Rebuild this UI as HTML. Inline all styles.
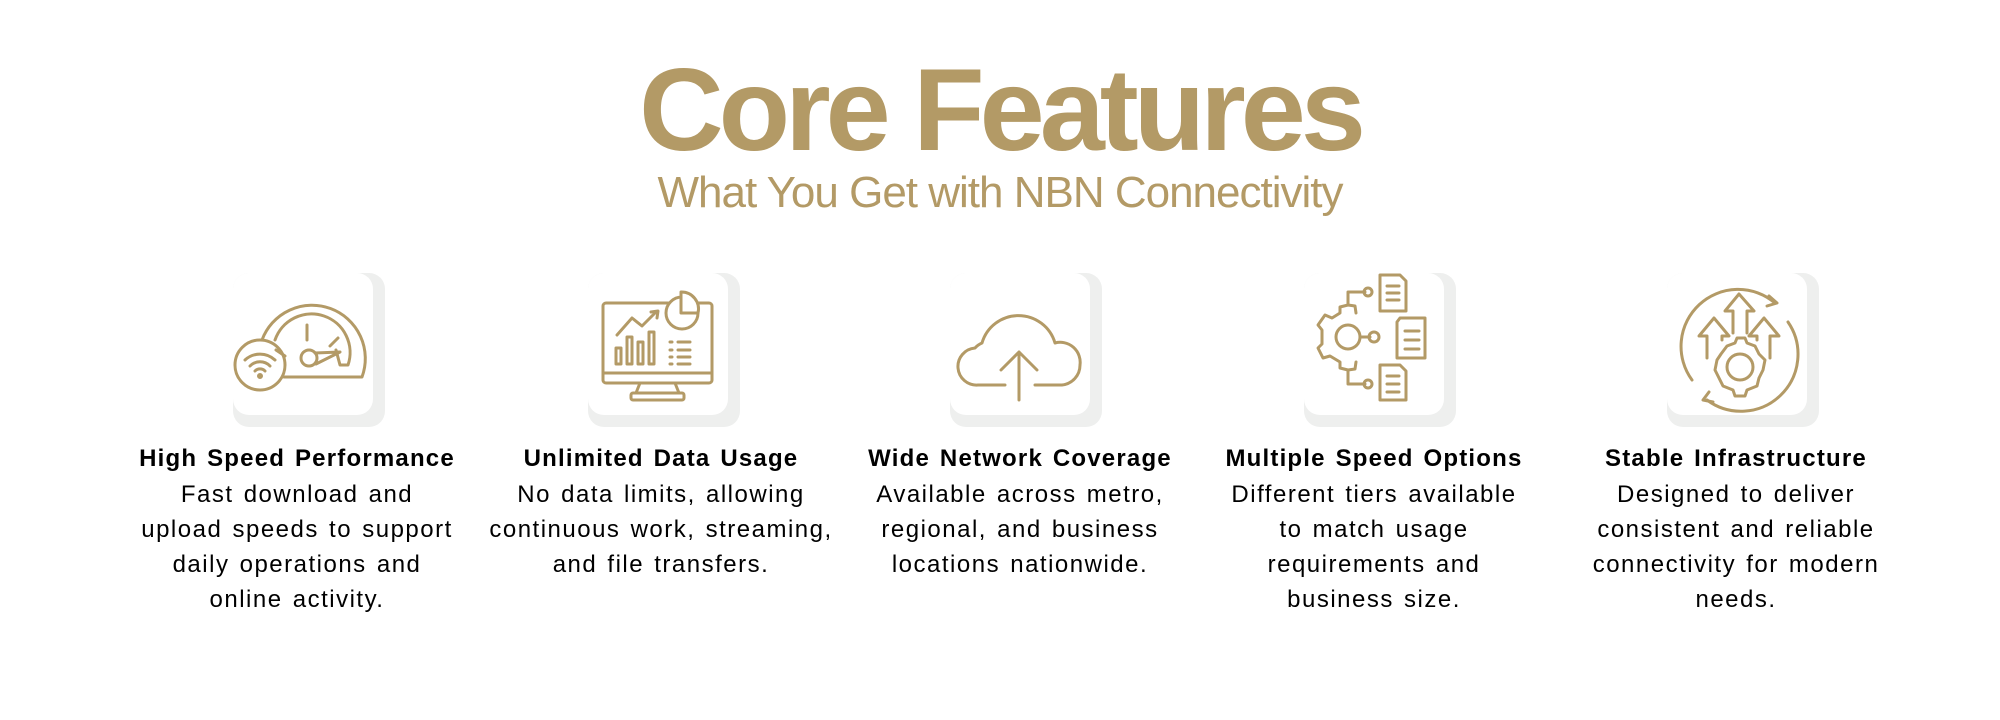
<!DOCTYPE html>
<html><head><meta charset="utf-8"><style>
body{margin:0;width:2000px;height:720px;background:#fff;position:relative;overflow:hidden;font-family:"Liberation Sans",sans-serif}
.t{position:absolute;left:0;width:2000px;text-align:center;color:#b39a66}
.c{position:absolute;width:400px;text-align:center;color:#000;top:441px}
.c b{display:block;font-size:24px;line-height:36px;letter-spacing:1.2px;word-spacing:2px}
.c p{margin:0;font-size:24px;line-height:35px;letter-spacing:1.5px;word-spacing:2px}
svg{position:absolute;left:0;top:0}
</style></head><body>
<div class="t" style="top:52px;font-size:117px;font-weight:bold;letter-spacing:-5px;line-height:116px">Core Features</div>
<div class="t" style="top:168px;font-size:44px;letter-spacing:-1px;line-height:50px">What You Get with NBN Connectivity</div>
<svg width="2000" height="720" fill="none" stroke="#b39a66" stroke-width="3" stroke-linecap="round" stroke-linejoin="round">
<g stroke="none">
<rect x="233" y="273" width="152" height="154" rx="16" fill="#eeefee"/><rect x="233" y="273" width="140" height="142" rx="16" fill="#fff"/>
<rect x="588" y="273" width="152" height="154" rx="16" fill="#eeefee"/><rect x="588" y="273" width="140" height="142" rx="16" fill="#fff"/>
<rect x="950" y="273" width="152" height="154" rx="16" fill="#eeefee"/><rect x="950" y="273" width="140" height="142" rx="16" fill="#fff"/>
<rect x="1304" y="273" width="152" height="154" rx="16" fill="#eeefee"/><rect x="1304" y="273" width="140" height="142" rx="16" fill="#fff"/>
<rect x="1667" y="273" width="152" height="154" rx="16" fill="#eeefee"/><rect x="1667" y="273" width="140" height="142" rx="16" fill="#fff"/>
</g>
<!-- gauge -->
<path d="M262 340 A52 52 0 0 1 362 377 L284 377"/>
<path d="M275 340 A38 38 0 0 1 348 365 L340 365 L336 350"/>
<path d="M307 325 L307 340 M276 350 L285 356 M338 338 L330 346"/>
<circle cx="309" cy="358" r="8"/><path d="M315 353 L340 352 L316 364"/>
<circle cx="260" cy="365" r="25"/>
<path d="M245 360 A22 22 0 0 1 275 360 M250 366 A14 14 0 0 1 270 366 M255 371 A7 7 0 0 1 265 371"/><circle cx="260" cy="376" r="1.5" fill="#b39a66"/>
<!-- monitor -->
<rect x="603" y="303" width="109" height="80" rx="3"/><path d="M603 373 L712 373 M640 383 L636 393 M675 383 L679 393"/><rect x="631" y="393" width="53" height="7" rx="2"/>
<circle cx="682" cy="313" r="16" fill="#fff"/><path d="M681 292 L681 313 L698 313 A17 17 0 0 0 681 292Z" fill="#fff"/>
<path d="M617 335 L632 318 L642 326 L656 312"/><path d="M651 312 L658 311 L657 318"/>
<rect x="616" y="348" width="5" height="16"/><rect x="627" y="337" width="5" height="27"/><rect x="638" y="342" width="5" height="22"/><rect x="649" y="332" width="5" height="32"/>
<path d="M670 342h2M678 342h12M670 350h2M678 350h12M670 357h2M678 357h12M670 364h2M678 364h12"/>
<!-- cloud -->
<path d="M1005 385 L978 385 A18 18 0 0 1 975 348 A20 20 0 0 1 982 343 A38 38 0 0 1 1055 343 A20 20 0 0 1 1080 365 A20 20 0 0 1 1062 385 L1035 385"/>
<path d="M1019 400 L1019 352 M1001 370 L1019 352 L1037 370"/>
<!-- gear + docs -->
<circle cx="1348" cy="337" r="12"/><path d="M1360 337 L1370 337"/><circle cx="1374" cy="337" r="5"/>
<path d="M1356 313 L1355 306 L1348 305 L1340 307 L1340 313 L1332 318 L1325 315 L1318 325 L1322 330 L1322 344 L1318 348 L1323 358 L1330 356 L1340 362 L1340 368 L1348 370 L1355 369 L1356 362"/>
<path d="M1348 305 L1348 292 L1365 292"/><circle cx="1368" cy="292" r="4"/>
<path d="M1348 370 L1348 384 L1365 384"/><circle cx="1368" cy="384" r="4"/>
<path d="M1380 275 L1400 275 L1406 281 L1406 311 L1380 311Z M1387 286h12M1387 293h12M1387 300h12"/>
<path d="M1400 318 L1425 318 L1425 358 L1397 358 L1397 322Z M1405 331h14M1405 340h14M1405 349h14"/>
<path d="M1380 365 L1400 365 L1406 371 L1406 400 L1380 400Z M1387 376h12M1387 384h12M1387 392h12"/>
<!-- stable -->
<g transform="translate(17,0)">
<path d="M1675 380 A57 57 0 0 1 1758 303"/><path d="M1752 296 L1760 303 L1750 306"/>
<path d="M1771 322 A57 57 0 0 1 1690 400"/><path d="M1692 392 L1686 400 L1696 402"/>
<path d="M1690 358 L1690 336 L1682 336 L1697 318 L1712 336 L1705 336 L1705 340"/>
<path d="M1716 333 L1716 311 L1708 311 L1722 294 L1737 311 L1730 311 L1730 333"/>
<path d="M1753 358 L1753 336 L1762 336 L1747 318 L1732 336 L1740 336 L1740 340"/>
<circle cx="1723" cy="367" r="13"/>
<path d="M1710 346 L1718 343 L1720 338 L1728 338 L1730 343 L1738 346 L1742 354 L1748 360 L1746 370 L1742 378 L1740 386 L1730 390 L1728 396 L1718 396 L1716 390 L1706 386 L1702 378 L1698 370 L1700 360 L1704 354Z"/>
</g>
</svg>
<div class="c" style="left:97px"><b>High Speed Performance</b><p>Fast download and<br>upload speeds to support<br>daily operations and<br>online activity.</p></div>
<div class="c" style="left:461px"><b>Unlimited Data Usage</b><p>No data limits, allowing<br>continuous work, streaming,<br>and file transfers.</p></div>
<div class="c" style="left:820px"><b>Wide Network Coverage</b><p>Available across metro,<br>regional, and business<br>locations nationwide.</p></div>
<div class="c" style="left:1174px"><b>Multiple Speed Options</b><p>Different tiers available<br>to match usage<br>requirements and<br>business size.</p></div>
<div class="c" style="left:1536px"><b>Stable Infrastructure</b><p>Designed to deliver<br>consistent and reliable<br>connectivity for modern<br>needs.</p></div>
</body></html>
